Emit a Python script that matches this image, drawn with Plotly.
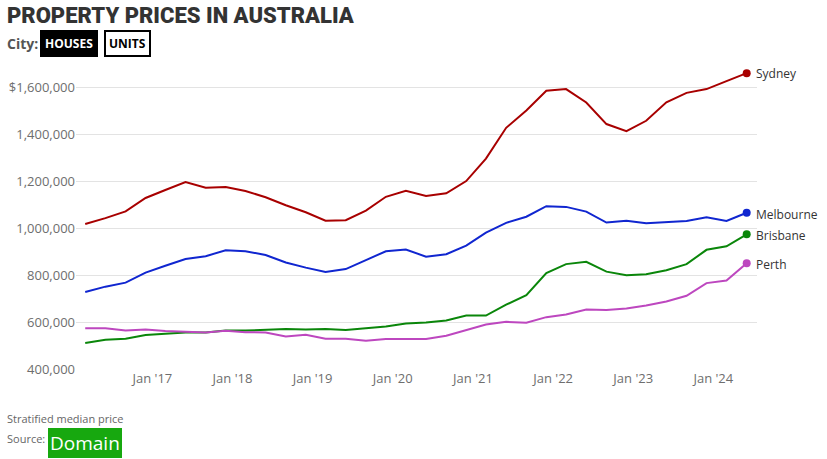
import plotly.graph_objects as go

# Quarterly stratified median house prices (Domain)
quarters = [
    "2016-03-01", "2016-06-01", "2016-09-01", "2016-12-01",
    "2017-03-01", "2017-06-01", "2017-09-01", "2017-12-01",
    "2018-03-01", "2018-06-01", "2018-09-01", "2018-12-01",
    "2019-03-01", "2019-06-01", "2019-09-01", "2019-12-01",
    "2020-03-01", "2020-06-01", "2020-09-01", "2020-12-01",
    "2021-03-01", "2021-06-01", "2021-09-01", "2021-12-01",
    "2022-03-01", "2022-06-01", "2022-09-01", "2022-12-01",
    "2023-03-01", "2023-06-01", "2023-09-01", "2023-12-01",
    "2024-03-01", "2024-06-01",
]

sydney = [
    1018000, 1043000, 1072000, 1129000, 1163000, 1197000, 1173000, 1176000,
    1159000, 1132000, 1098000, 1068000, 1032000, 1034000, 1075000, 1134000,
    1160000, 1137000, 1149000, 1201000, 1297000, 1428000, 1502000, 1586000,
    1593000, 1536000, 1444000, 1414000, 1458000, 1537000, 1577000, 1593000,
    1627000, 1661000,
]
melbourne = [
    728000, 751000, 768000, 811000, 840000, 869000, 881000, 906000,
    902000, 886000, 854000, 832000, 814000, 826000, 864000, 902000,
    909000, 879000, 889000, 926000, 981000, 1023000, 1049000, 1094000,
    1091000, 1071000, 1024000, 1032000, 1021000, 1027000, 1031000, 1047000,
    1031000, 1066000,
]
brisbane = [
    511000, 525000, 529000, 545000, 550000, 556000, 556000, 564000,
    564000, 567000, 570000, 568000, 570000, 566000, 573000, 581000,
    594000, 598000, 607000, 628000, 628000, 674000, 715000, 809000,
    847000, 857000, 815000, 800000, 804000, 821000, 847000, 908000,
    923000, 974000,
]
perth = [
    574000, 574000, 564000, 568000, 562000, 560000, 556000, 563000,
    557000, 556000, 539000, 546000, 529000, 529000, 520000, 528000,
    528000, 528000, 542000, 567000, 590000, 601000, 597000, 621000,
    632000, 654000, 651000, 658000, 671000, 688000, 712000, 766000,
    777000, 851000,
]

cities = ["Sydney", "Melbourne", "Brisbane", "Perth"]
series = [sydney, melbourne, brisbane, perth]
colors = ["#a80000", "#1026d0", "#0a860a", "#bd47bf"]

tick_dates = ["2017-01-01", "2018-01-01", "2019-01-01", "2020-01-01",
              "2021-01-01", "2022-01-01", "2023-01-01", "2024-01-01"]
tick_text = ["Jan '17", "Jan '18", "Jan '19", "Jan '20",
             "Jan '21", "Jan '22", "Jan '23", "Jan '24"]
y_ticks = [400000, 600000, 800000, 1000000, 1200000, 1400000, 1600000]
y_text = ["400,000", "600,000", "800,000", "1,000,000", "1,200,000",
          "1,400,000", "$1,600,000"]

FONT = "Open Sans, Roboto, sans-serif"
LEFT = -0.104  # paper x of the page's left text column

fig = go.Figure()
for name, vals, col in zip(cities, series, colors):
    fig.add_trace(go.Scatter(
        x=quarters, y=vals, mode="lines", name=name,
        line=dict(color=col, width=2),
    ))
    fig.add_trace(go.Scatter(
        x=[quarters[-1]], y=[vals[-1]], mode="markers",
        marker=dict(color=col, size=8), showlegend=False,
    ))

# end-of-line labels
label_y = {"Sydney": 1658000, "Melbourne": 1058000, "Brisbane": 970000, "Perth": 847000}
for name in cities:
    fig.add_annotation(
        x=quarters[-1], y=label_y[name], text=name, showarrow=False,
        xanchor="left", yanchor="middle", xshift=7,
        font=dict(size=12, color="#333333", family=FONT),
    )

# header
fig.add_annotation(
    xref="paper", yref="paper", x=LEFT, y=1.0, yshift=49,
    xanchor="left", yanchor="middle",
    text="PROPERTY PRICES IN AUSTRALIA", showarrow=False,
    font=dict(size=22, color="#333333", family="Roboto, sans-serif", weight=900),
)
fig.add_annotation(
    xref="paper", yref="paper", x=LEFT, y=1.0, yshift=21,
    xanchor="left", yanchor="middle",
    text="<b>City:</b>", showarrow=False,
    font=dict(size=14, color="#555555", family=FONT),
)
fig.add_annotation(
    xref="paper", yref="paper", x=LEFT, y=1.0, yshift=21, xshift=35,
    xanchor="left", yanchor="middle",
    text="<b>HOUSES</b>", showarrow=False, bgcolor="#000000",
    bordercolor="#000000", borderwidth=2, borderpad=3,
    font=dict(size=12, color="#ffffff", family=FONT),
)
fig.add_annotation(
    xref="paper", yref="paper", x=LEFT, y=1.0, yshift=21, xshift=99,
    xanchor="left", yanchor="middle",
    text="<b>UNITS</b>", showarrow=False, bgcolor="#ffffff",
    bordercolor="#000000", borderwidth=2, borderpad=3,
    font=dict(size=12, color="#000000", family=FONT),
)

# footer
fig.add_annotation(
    xref="paper", yref="paper", x=LEFT, y=0.0, yshift=-49,
    xanchor="left", yanchor="middle",
    text="Stratified median price", showarrow=False,
    font=dict(size=11, color="#666666", family=FONT),
)
fig.add_annotation(
    xref="paper", yref="paper", x=LEFT, y=0.0, yshift=-69,
    xanchor="left", yanchor="middle",
    text="Source:", showarrow=False,
    font=dict(size=11, color="#666666", family=FONT),
)
fig.add_annotation(
    xref="paper", yref="paper", x=LEFT, y=0.0, yshift=-74, xshift=43,
    xanchor="left", yanchor="middle",
    text="Domain", showarrow=False, bgcolor="#17a80f",
    bordercolor="#17a80f", borderwidth=1, borderpad=1,
    font=dict(size=19, color="#ffffff", family=FONT),
)

fig.update_xaxes(
    type="date", range=["2016-01-19", "2024-07-18"],
    tickvals=tick_dates, ticktext=tick_text, showgrid=False,
    showline=False, zeroline=False, ticks="", automargin=False,
    tickfont=dict(size=13, color="#6e6e6e", family=FONT),
)
fig.update_yaxes(
    range=[400000, 1700000], tickvals=y_ticks, ticktext=y_text,
    showgrid=True, gridcolor="#e3e3e3", gridwidth=1, zeroline=False,
    ticks="", automargin=False,
    tickfont=dict(size=13, color="#6e6e6e", family=FONT),
)
fig.update_layout(
    width=827, height=459,
    margin=dict(l=76, r=70, t=64, b=90),
    plot_bgcolor="#ffffff", paper_bgcolor="#ffffff",
    showlegend=False, hovermode="x unified",
    font=dict(family=FONT),
)

fig.write_html(
    "out.html",
    config={"displayModeBar": False},
    post_script="document.body.style.margin = '0';",
)
